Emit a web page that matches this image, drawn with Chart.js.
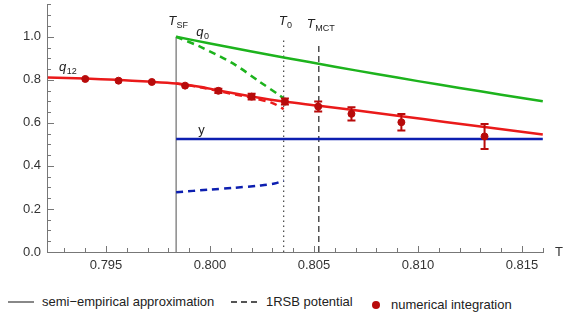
<!DOCTYPE html>
<html>
<head>
<meta charset="utf-8">
<script src="https://cdn.jsdelivr.net/npm/chart.js@4.4.1/dist/chart.umd.min.js"></script>
<style>
  body { margin: 0; background: #fff; }
  #wrap { position: relative; width: 588px; height: 334px; font-family: "Liberation Sans", Arial, sans-serif; color: #222; }
  #chart { position: absolute; left: 0; top: 0; }
  .leg { position: absolute; font-size: 13px; line-height: 16px; white-space: nowrap; }
  .sw { position: absolute; }
</style>
</head>
<body>
<div id="wrap">
  <canvas id="chart" width="588" height="290"></canvas>
  <div class="sw" style="left:8px;top:301px;width:26px;border-top:2px solid #888;"></div>
  <div class="leg" style="left:42px;top:294px;">semi−empirical approximation</div>
  <div class="sw" style="left:231px;top:301px;width:26px;border-top:2px dashed #555;"></div>
  <div class="leg" style="left:266px;top:294px;">1RSB potential</div>
  <div class="sw" style="left:372px;top:301px;width:8px;height:8px;border-radius:50%;background:#b80b0b;"></div>
  <div class="leg" style="left:391px;top:297px;">numerical integration</div>
</div>
<script>
// temperaturas caracteristicas
const tSF = 0.79837, t0 = 0.80354, tMCT = 0.80523;

// q0 (verde)
const q0T = [0.79837, 0.800, 0.802, 0.80354, 0.806, 0.808, 0.810, 0.812, 0.814, 0.816];
const q0Val = [1.000, 0.969, 0.932, 0.904, 0.861, 0.827, 0.794, 0.762, 0.731, 0.700];
const q0DashT = [0.79837, 0.79952, 0.80112, 0.8024, 0.80337, 0.80354];
const q0DashVal = [1.000, 0.954, 0.875, 0.790, 0.726, 0.712];

// q12 (rojo)
const q12T = [0.7922, 0.794, 0.7955, 0.797, 0.79837, 0.7995, 0.8004, 0.802, 0.80354, 0.80523, 0.8068, 0.8092, 0.8113, 0.8132, 0.816];
const q12Val = [0.811, 0.806, 0.800, 0.792, 0.783, 0.768, 0.751, 0.723, 0.699, 0.680, 0.661, 0.631, 0.604, 0.581, 0.546];
const q12DashT = [0.79837, 0.7995, 0.8004, 0.802, 0.803, 0.80354];
const q12DashVal = [0.783, 0.766, 0.748, 0.716, 0.692, 0.664];

// y (azul)
const yT = [0.79837, 0.816];
const yVal = [0.525, 0.525];
const yDashT = [0.79837, 0.8000, 0.80112, 0.8024, 0.8031, 0.80354];
const yDashVal = [0.278, 0.290, 0.298, 0.309, 0.318, 0.332];

// integracion numerica
const simT = [0.7940, 0.7956, 0.7972, 0.7988, 0.8004, 0.8020, 0.8036, 0.8052, 0.8068, 0.8092, 0.8132];
const simVal = [0.804, 0.796, 0.790, 0.773, 0.749, 0.722, 0.699, 0.676, 0.642, 0.603, 0.537];
const simErr = [0, 0, 0, 0, 0.010, 0.013, 0.014, 0.023, 0.031, 0.038, 0.058];

// ticks
const xTicks = [0.795, 0.800, 0.805, 0.810, 0.815];
const yTicks = [0, 0.2, 0.4, 0.6, 0.8, 1.0];

const pts = (xs, ys) => xs.map((x, i) => ({ x: x, y: ys[i] }));

const GREEN = "#1db31d", RED = "#ea1a1a", DARKRED = "#b80b0b", BLUE = "#0d1fb0";

function curve(xs, ys, color, dash, order) {
    return {
        data: pts(xs, ys), showLine: true, borderColor: color, borderWidth: 2.5,
        borderDash: dash || [], pointRadius: 0, tension: 0.3, order: order || 5
    };
}

// barras de error, ticks internos y etiquetas
const extras = {
    id: "extras",
    afterDatasetsDraw(chart) {
        const c = chart.ctx, xs = chart.scales.x, ys = chart.scales.y;
        c.save();
        c.strokeStyle = DARKRED; c.lineWidth = 2;
        simT.forEach((t, i) => {
            if (!simErr[i]) return;
            const px = xs.getPixelForValue(t);
            const top = ys.getPixelForValue(simVal[i] + simErr[i]);
            const bot = ys.getPixelForValue(simVal[i] - simErr[i]);
            c.beginPath();
            c.moveTo(px, top); c.lineTo(px, bot);
            c.moveTo(px - 4, top); c.lineTo(px + 4, top);
            c.moveTo(px - 4, bot); c.lineTo(px + 4, bot);
            c.stroke();
        });
        c.restore();
    },
    afterDraw(chart) {
        const c = chart.ctx, xs = chart.scales.x, ys = chart.scales.y;
        const ca = chart.chartArea;
        c.save();
        c.strokeStyle = "#777"; c.lineWidth = 1;
        // ticks internos eje x
        for (let k = 793; k <= 816; k++) {
            const px = Math.round(xs.getPixelForValue(k / 1000)) + 0.5;
            const len = k % 5 === 0 ? 6 : 4;
            c.beginPath(); c.moveTo(px, ca.bottom); c.lineTo(px, ca.bottom - len); c.stroke();
        }
        // ticks internos eje y
        for (let k = 0; k <= 23; k++) {
            const py = Math.round(ys.getPixelForValue(k * 0.05)) + 0.5;
            const len = k % 4 === 0 ? 7 : 4;
            c.beginPath(); c.moveTo(ca.left, py); c.lineTo(ca.left + len, py); c.stroke();
        }
        // etiquetas
        c.fillStyle = "#222";
        c.textBaseline = "alphabetic";
        function lab(x, y, main, sub, italic) {
            c.font = (italic ? "italic " : "") + "13px 'Liberation Sans', Arial, sans-serif";
            c.fillText(main, x, y);
            const w = c.measureText(main).width;
            if (sub) {
                c.font = "9px 'Liberation Sans', Arial, sans-serif";
                c.fillText(sub, x + w + 0.5, y + 3);
            }
        }
        lab(xs.getPixelForValue(tSF) - 8, 25, "T", "SF", true);
        lab(xs.getPixelForValue(t0) - 5, 25, "T", "0", true);
        lab(xs.getPixelForValue(tMCT) - 12, 28, "T", "MCT", true);
        lab(xs.getPixelForValue(tSF) + 20, 36, "q", "0", true);
        lab(59, 71, "q", "12", true);
        lab(xs.getPixelForValue(tSF) + 22, 134, "y", "", false);
        c.font = "13px 'Liberation Sans', Arial, sans-serif";
        c.fillStyle = "#333";
        c.fillText("T", 555, 256);
        c.restore();
    }
};

const ctx = document.getElementById("chart").getContext("2d");
new Chart(ctx, {
    type: "scatter",
    data: {
        datasets: [
            {
                data: pts(simT, simVal), backgroundColor: DARKRED, borderColor: DARKRED,
                pointRadius: 3.5, pointHoverRadius: 3.5, order: 0
            },
            curve(q0T, q0Val, GREEN, null, 3),
            curve(q0DashT, q0DashVal, GREEN, [7, 5], 3),
            curve(q12T, q12Val, RED, null, 2),
            curve(q12DashT, q12DashVal, RED, [7, 5], 2),
            curve(yT, yVal, BLUE, null, 3),
            curve(yDashT, yDashVal, BLUE, [7, 5], 3),
            // lineas verticales
            { data: pts([tSF, tSF], [0, 1.0]), showLine: true, borderColor: "#8a8a8a", borderWidth: 1.5, pointRadius: 0, order: 6 },
            { data: pts([t0, t0], [0, 0.985]), showLine: true, borderColor: "#444", borderWidth: 1.2, borderDash: [1.5, 3.5], pointRadius: 0, order: 6 },
            { data: pts([tMCT, tMCT], [0, 0.975]), showLine: true, borderColor: "#222", borderWidth: 1.2, borderDash: [6, 4], pointRadius: 0, order: 6 }
        ]
    },
    options: {
        responsive: false,
        animation: false,
        layout: { padding: { left: 0, right: 45, top: 1, bottom: 13 } },
        plugins: { legend: { display: false }, tooltip: { enabled: false } },
        scales: {
            x: {
                type: "linear", min: 0.79216, max: 0.81601,
                afterBuildTicks: s => { s.ticks = xTicks.map(v => ({ value: v })); },
                afterFit: s => { s.height = 25; s.paddingLeft = 0; s.paddingRight = 0; },
                grid: { display: false, drawTicks: false },
                border: { display: true, color: "#777", width: 1 },
                ticks: {
                    padding: 6, color: "#333",
                    font: { family: "'Liberation Sans', Arial, sans-serif", size: 13 },
                    callback: v => v.toFixed(3)
                }
            },
            y: {
                type: "linear", min: 0, max: 1.15,
                afterBuildTicks: s => { s.ticks = yTicks.map(v => ({ value: v })); },
                afterFit: s => { s.width = 47; s.paddingTop = 0; s.paddingBottom = 0; },
                grid: { display: false, drawTicks: false },
                border: { display: true, color: "#777", width: 1 },
                ticks: {
                    padding: 6, color: "#333",
                    font: { family: "'Liberation Sans', Arial, sans-serif", size: 13 },
                    callback: v => v.toFixed(1)
                }
            }
        }
    },
    plugins: [extras]
});
</script>
</body>
</html>
